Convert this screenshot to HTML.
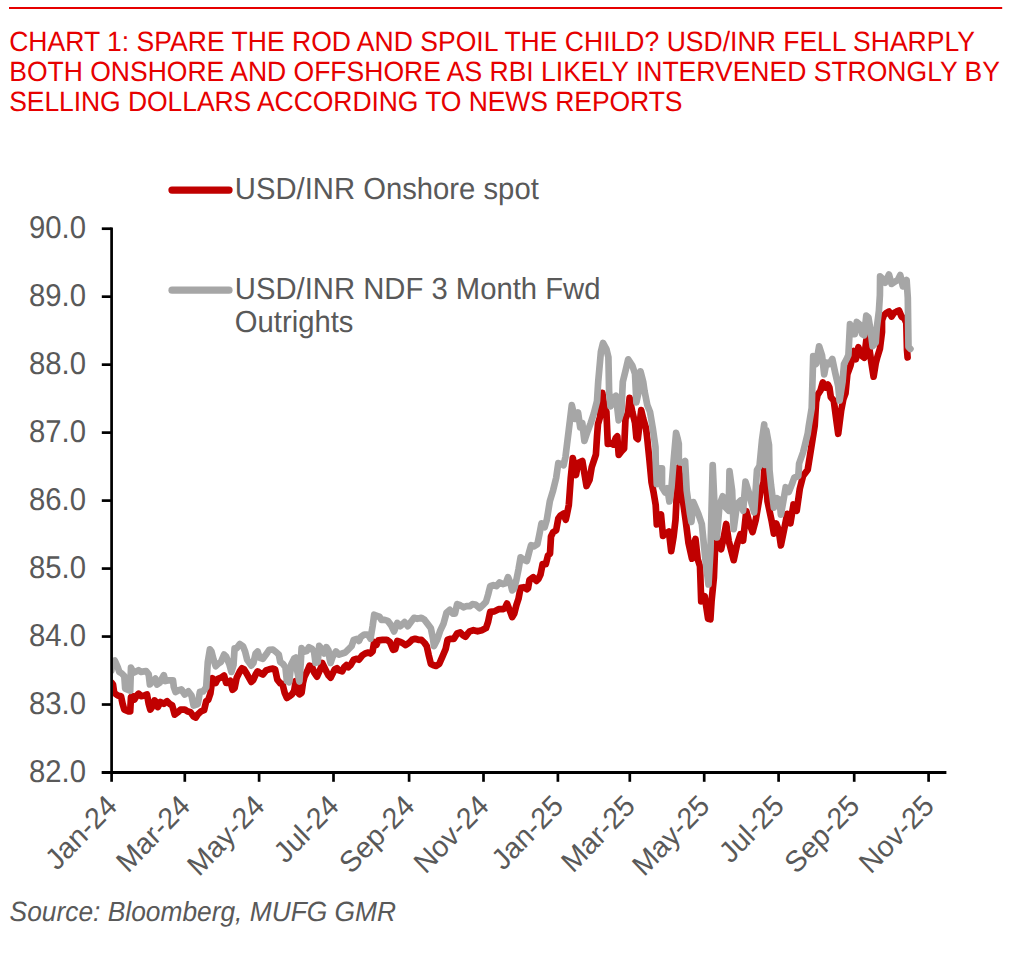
<!DOCTYPE html>
<html><head><meta charset="utf-8"><style>
html,body{margin:0;padding:0;background:#fff;}
svg{display:block;font-family:"Liberation Sans",sans-serif;text-rendering:geometricPrecision;}
</style></head><body>
<svg width="1022" height="953" viewBox="0 0 1022 953">
<line x1="9" y1="8" x2="1002.2" y2="8" stroke="#E60000" stroke-width="2"/>
<defs><clipPath id="pc"><rect x="112.6" y="150" width="850" height="621"/></clipPath></defs>
<g clip-path="url(#pc)"><path d="M111.7,682.8 L113.0,684.5 L114.2,692.9 L117.6,695.4 L121.0,696.2 L122.6,703.8 L124.3,709.6 L128.5,711.3 L130.2,711.3 L131.0,697.0 L132.7,696.2 L134.4,699.6 L136.9,695.4 L138.6,693.7 L141.1,696.2 L144.4,695.4 L147.0,694.5 L148.7,703.8 L150.3,709.6 L152.0,707.1 L154.5,700.4 L156.2,702.1 L157.9,707.1 L160.4,702.1 L163.8,703.8 L167.1,701.2 L169.6,703.8 L172.2,705.4 L174.7,714.7 L178.0,712.2 L180.6,709.6 L184.8,709.6 L187.3,711.3 L190.5,712.3 L193.6,716.5 L195.7,717.6 L197.8,714.4 L201.0,711.3 L204.1,710.2 L206.2,701.3 L208.3,699.8 L210.4,693.5 L212.5,678.2 L215.7,683.0 L217.8,678.8 L220.9,677.7 L224.1,675.6 L226.2,683.0 L228.3,683.0 L230.4,680.9 L232.5,689.8 L234.6,688.2 L236.7,677.7 L239.8,671.4 L241.9,668.3 L244.0,669.3 L247.2,674.6 L251.3,681.9 L253.4,679.8 L255.6,674.6 L257.6,671.4 L260.8,673.5 L262.9,674.6 L266.0,670.4 L269.2,669.3 L272.9,668.6 L275.1,669.4 L277.3,679.6 L280.3,683.3 L282.5,684.0 L284.7,692.9 L286.9,698.0 L289.1,696.5 L292.0,694.3 L294.2,690.7 L295.7,681.1 L297.2,691.4 L299.4,694.3 L301.6,692.9 L303.0,682.6 L304.5,676.7 L307.4,670.8 L309.6,665.7 L311.9,666.4 L314.1,672.3 L317.0,676.7 L321.2,667.2 L322.2,663.0 L324.3,667.2 L326.4,671.4 L328.5,675.5 L330.6,677.6 L332.7,673.5 L334.8,669.2 L336.9,668.2 L339.0,670.3 L342.2,671.4 L344.2,667.2 L346.4,665.1 L348.4,667.2 L350.6,665.1 L353.7,659.8 L356.9,658.8 L358.9,659.8 L362.1,655.6 L365.2,653.5 L368.4,652.5 L370.5,653.5 L372.6,651.4 L374.2,642.0 L376.3,645.1 L378.4,640.3 L382.6,639.8 L386.8,639.8 L389.9,641.9 L393.1,649.8 L395.2,649.2 L397.3,640.9 L400.4,641.9 L402.5,643.0 L405.7,645.1 L408.8,643.0 L412.0,639.8 L415.1,638.8 L418.3,639.8 L421.4,639.8 L424.6,643.0 L426.7,646.1 L428.8,655.5 L430.9,664.0 L433.0,665.0 L436.1,666.0 L439.2,664.0 L442.4,656.6 L445.6,649.2 L447.6,639.8 L450.8,638.8 L453.9,638.8 L457.1,633.5 L460.2,632.5 L463.4,635.6 L465.5,636.7 L468.6,632.5 L469.7,631.4 L473.4,630.2 L477.6,631.3 L481.8,630.2 L486.0,628.1 L488.1,621.9 L490.2,611.9 L494.4,611.4 L498.6,609.2 L502.8,609.2 L504.9,608.2 L507.0,603.5 L510.1,611.4 L512.2,617.1 L514.3,613.5 L516.4,605.1 L518.5,598.8 L520.6,587.7 L523.8,587.2 L526.9,589.3 L528.0,588.3 L529.5,579.9 L533.2,577.2 L536.4,580.9 L538.5,578.8 L540.5,574.6 L542.6,564.1 L545.8,564.1 L547.9,555.7 L550.0,553.6 L551.0,536.5 L553.1,532.3 L556.2,530.2 L558.3,518.7 L560.4,515.5 L563.6,513.5 L565.7,519.8 L566.7,515.5 L568.8,505.1 L569.2,499.7 L570.7,478.7 L572.8,458.2 L576.0,475.0 L578.1,463.0 L582.3,460.9 L584.4,473.4 L586.5,486.0 L589.6,479.8 L591.7,467.2 L593.8,460.9 L595.9,454.6 L597.0,436.7 L598.0,424.1 L600.1,416.8 L602.3,392.8 L604.3,406.4 L606.4,411.9 L607.8,443.9 L610.5,443.2 L613.2,444.6 L615.9,437.8 L617.3,436.4 L618.7,454.8 L621.4,451.4 L624.1,448.7 L625.5,418.7 L628.2,411.9 L629.6,397.9 L632.3,411.9 L635.0,422.8 L636.4,437.8 L637.8,439.1 L639.1,428.2 L641.2,410.2 L643.2,418.7 L646.0,428.2 L647.3,439.1 L649.4,459.6 L651.5,482.0 L653.6,492.5 L655.7,505.0 L656.8,524.5 L660.0,515.6 L661.0,514.5 L663.0,536.0 L665.0,534.0 L668.9,531.5 L671.2,551.2 L673.5,537.3 L675.5,520.0 L677.0,490.0 L678.8,467.3 L681.0,485.0 L683.5,505.0 L685.6,520.0 L688.5,543.0 L692.0,558.7 L694.3,543.0 L695.5,539.0 L697.7,559.3 L700.0,566.2 L701.2,601.4 L704.7,596.2 L708.1,618.7 L710.4,619.3 L711.6,600.8 L713.9,577.7 L715.1,547.7 L716.2,540.8 L718.6,540.8 L721.1,549.2 L723.7,537.5 L726.2,524.0 L728.7,540.8 L733.7,560.2 L737.1,544.2 L740.5,534.1 L743.1,540.7 L746.3,511.0 L749.4,523.4 L752.6,532.0 L755.7,520.2 L758.9,501.3 L760.5,491.9 L763.6,482.4 L765.1,451.0 L766.3,475.0 L767.5,501.3 L771.5,520.2 L773.9,533.6 L776.2,523.4 L778.6,529.7 L780.9,545.4 L784.1,529.7 L787.2,513.9 L790.4,523.4 L793.5,504.5 L796.7,510.8 L799.8,488.7 L803.0,476.1 L807.7,469.8 L811.7,444.8 L814.7,425.7 L816.1,402.2 L817.6,394.9 L820.5,390.5 L822.8,382.4 L825.7,387.5 L827.9,384.6 L829.4,387.5 L830.8,397.1 L833.8,400.7 L836.7,422.8 L838.2,433.8 L841.1,411.0 L843.3,399.3 L845.5,393.4 L847.4,374.0 L850.5,365.6 L853.7,350.9 L855.8,359.3 L858.4,347.2 L861.0,355.1 L864.2,357.8 L866.3,340.4 L867.8,336.2 L869.4,348.8 L871.5,363.5 L873.6,376.7 L875.7,363.5 L877.3,357.2 L879.9,348.8 L882.0,332.0 L882.0,320.4 L883.9,315.4 L886.4,312.9 L889.0,311.6 L891.5,316.6 L894.0,312.9 L896.5,311.6 L899.0,310.4 L901.5,316.6 L904.4,318.5 L906.3,322.9 L907.0,350.0 L907.6,357.4" fill="none" stroke="#C00000" stroke-width="6.7" stroke-linejoin="round" stroke-linecap="round"/>
<path d="M111.3,671.0 L111.9,664.3 L113.0,661.4 L114.7,660.5 L117.6,666.8 L119.3,671.9 L121.8,673.5 L124.3,676.1 L125.2,688.6 L130.2,690.8 L131.0,667.7 L133.5,672.7 L138.6,670.2 L141.1,671.9 L146.1,671.0 L148.7,674.4 L149.9,684.5 L152.0,681.9 L155.4,678.6 L157.1,684.5 L159.6,682.8 L163.8,675.2 L165.4,681.1 L168.8,680.3 L171.3,680.3 L173.0,680.3 L173.8,687.0 L175.5,692.0 L178.9,690.3 L181.4,689.5 L184.8,694.5 L188.4,691.4 L191.5,695.5 L193.6,705.5 L197.8,704.0 L199.9,691.9 L203.1,691.4 L206.2,687.2 L207.8,662.0 L209.9,649.4 L211.5,651.5 L213.6,659.9 L215.7,666.2 L217.8,664.1 L220.9,662.0 L224.1,654.6 L226.2,656.7 L229.3,664.1 L231.4,671.9 L233.5,665.1 L234.6,648.3 L236.7,648.3 L239.8,644.1 L243.0,646.2 L245.1,651.5 L247.2,659.9 L251.3,665.6 L253.4,663.0 L255.6,653.6 L257.6,651.5 L259.8,657.8 L262.9,658.8 L266.0,654.6 L269.2,649.9 L272.9,649.5 L276.6,652.5 L278.8,654.7 L280.3,662.0 L283.2,664.2 L285.4,667.2 L286.9,681.1 L289.1,682.2 L291.3,664.2 L294.2,658.4 L295.7,657.6 L297.2,670.8 L299.4,681.5 L300.8,662.0 L301.6,648.1 L303.8,651.8 L306.7,651.0 L308.9,647.3 L311.9,648.8 L314.1,651.8 L315.5,662.8 L317.7,662.0 L319.2,645.9 L322.2,649.3 L324.3,653.5 L326.4,647.2 L328.5,650.4 L329.6,658.8 L330.6,663.0 L332.7,656.7 L335.9,651.4 L339.0,654.6 L342.2,653.5 L345.3,652.5 L348.4,649.3 L351.6,646.2 L353.7,639.9 L356.9,638.8 L358.9,640.9 L361.0,636.7 L364.2,634.6 L367.3,634.6 L369.4,636.7 L370.5,638.8 L372.6,626.2 L374.2,614.7 L376.3,615.7 L379.4,616.7 L381.5,619.9 L384.7,619.9 L387.8,620.9 L391.0,625.1 L394.1,631.4 L397.3,623.0 L400.4,626.2 L404.6,622.0 L407.8,626.2 L410.9,622.0 L414.1,617.8 L417.2,618.8 L421.4,617.8 L424.6,619.9 L427.7,624.1 L430.9,628.3 L433.0,638.8 L434.0,646.1 L437.2,639.8 L440.3,630.4 L443.4,624.1 L446.6,612.5 L449.8,609.9 L452.9,613.6 L455.0,613.6 L457.1,604.1 L460.2,605.2 L463.4,607.3 L466.5,606.2 L469.7,606.2 L472.4,604.2 L475.5,604.5 L479.7,608.2 L482.8,605.1 L486.0,601.9 L488.1,594.6 L490.2,586.2 L493.3,585.1 L496.5,586.2 L499.6,582.5 L502.8,584.1 L505.9,583.0 L508.0,577.2 L510.1,582.0 L512.2,590.4 L514.3,588.3 L516.4,579.9 L518.5,569.4 L520.6,557.3 L523.8,559.9 L526.9,561.0 L529.0,552.6 L531.1,545.2 L534.2,546.3 L537.4,544.2 L539.4,534.4 L541.5,523.4 L544.7,527.1 L546.8,519.8 L549.9,500.9 L553.1,490.4 L556.2,477.8 L558.3,463.1 L561.5,464.1 L563.6,465.2 L565.5,456.7 L568.6,431.5 L571.8,405.2 L574.9,418.9 L578.1,412.6 L580.2,427.3 L582.3,423.1 L584.4,440.9 L587.5,431.5 L590.7,423.1 L593.8,413.6 L597.0,401.1 L598.2,381.8 L600.9,351.8 L603.0,343.0 L606.4,349.1 L608.4,357.3 L609.1,391.4 L610.5,406.4 L613.2,398.2 L615.9,395.8 L618.7,420.3 L621.4,411.9 L622.8,381.8 L625.5,370.9 L628.2,359.3 L632.3,365.5 L635.0,373.7 L636.4,402.3 L638.4,392.8 L640.5,371.3 L643.2,381.8 L644.6,391.4 L647.3,405.0 L650.0,411.9 L652.8,428.2 L655.5,447.3 L655.7,461.0 L656.8,484.1 L658.9,468.3 L662.0,468.3 L662.0,487.2 L665.2,492.5 L667.3,488.3 L669.4,501.4 L671.5,487.2 L673.6,461.0 L676.1,432.8 L677.5,438.0 L678.8,444.0 L678.8,460.0 L680.0,462.4 L683.2,462.4 L685.1,461.0 L686.7,490.4 L690.0,514.0 L691.4,521.9 L693.4,502.2 L698.4,514.0 L701.8,524.0 L705.2,557.6 L708.5,584.5 L710.5,550.0 L712.7,465.2 L714.7,510.0 L716.9,537.5 L719.5,505.0 L722.8,496.3 L725.3,507.2 L728.7,510.6 L729.5,471.1 L732.1,490.4 L733.7,529.1 L737.1,503.9 L740.5,500.5 L743.1,510.8 L745.5,481.7 L748.7,491.9 L751.0,501.3 L754.2,512.4 L757.0,470.0 L759.5,466.0 L762.0,440.0 L764.2,424.5 L765.3,465.0 L766.3,430.0 L769.0,445.0 L769.5,470.0 L771.0,485.0 L773.9,507.6 L777.0,498.2 L779.4,499.8 L780.9,514.7 L783.3,501.3 L785.7,487.2 L788.8,491.9 L792.0,484.0 L794.3,477.7 L798.3,476.1 L799.1,463.5 L803.0,452.5 L804.6,446.2 L807.7,433.6 L808.8,425.7 L811.7,408.1 L813.2,356.0 L816.1,364.0 L819.1,346.4 L822.0,355.2 L824.2,374.3 L826.4,362.6 L829.4,364.0 L832.3,358.9 L835.2,372.8 L838.2,386.1 L839.6,400.7 L842.6,381.6 L844.0,364.0 L847.0,358.2 L848.4,355.1 L850.0,324.1 L852.6,334.1 L854.7,334.1 L856.8,322.0 L860.0,324.7 L862.1,334.1 L864.2,335.2 L866.3,315.7 L868.4,317.3 L870.5,329.9 L872.6,346.2 L875.7,342.5 L876.8,327.8 L878.9,311.0 L879.9,295.3 L880.1,276.4 L882.7,278.9 L885.2,282.7 L889.0,274.5 L891.5,283.9 L895.2,281.4 L897.8,280.1 L900.3,275.1 L902.8,286.4 L906.6,280.1 L907.8,297.8 L908.5,346.9 L910.4,348.8" fill="none" stroke="#A6A6A6" stroke-width="6.7" stroke-linejoin="round" stroke-linecap="round"/></g>
<text transform="translate(9.2,50.5) scale(1,1.05)" font-size="26.55" fill="#E60000">CHART 1: SPARE THE ROD AND SPOIL THE CHILD? USD/INR FELL SHARPLY</text>
<text transform="translate(9.2,80.9) scale(1,1.05)" font-size="26.55" fill="#E60000" textLength="990.7" lengthAdjust="spacing">BOTH ONSHORE AND OFFSHORE AS RBI LIKELY INTERVENED STRONGLY BY</text>
<text transform="translate(9.2,111.0) scale(1,1.05)" font-size="26.55" fill="#E60000" textLength="673.3" lengthAdjust="spacing">SELLING DOLLARS ACCORDING TO NEWS REPORTS</text>
<line x1="111.6" y1="227.4" x2="111.6" y2="773.5" stroke="#000" stroke-width="2.7"/>
<line x1="101.8" y1="772.50" x2="111.6" y2="772.50" stroke="#000" stroke-width="2.7"/>
<text transform="translate(86.0,781.9) scale(1,1.077)" font-size="29.3" fill="#595959" text-anchor="end">82.0</text>
<line x1="101.8" y1="704.52" x2="111.6" y2="704.52" stroke="#000" stroke-width="2.7"/>
<text transform="translate(86.0,713.9) scale(1,1.077)" font-size="29.3" fill="#595959" text-anchor="end">83.0</text>
<line x1="101.8" y1="636.55" x2="111.6" y2="636.55" stroke="#000" stroke-width="2.7"/>
<text transform="translate(86.0,645.9) scale(1,1.077)" font-size="29.3" fill="#595959" text-anchor="end">84.0</text>
<line x1="101.8" y1="568.58" x2="111.6" y2="568.58" stroke="#000" stroke-width="2.7"/>
<text transform="translate(86.0,578.0) scale(1,1.077)" font-size="29.3" fill="#595959" text-anchor="end">85.0</text>
<line x1="101.8" y1="500.60" x2="111.6" y2="500.60" stroke="#000" stroke-width="2.7"/>
<text transform="translate(86.0,510.0) scale(1,1.077)" font-size="29.3" fill="#595959" text-anchor="end">86.0</text>
<line x1="101.8" y1="432.62" x2="111.6" y2="432.62" stroke="#000" stroke-width="2.7"/>
<text transform="translate(86.0,442.0) scale(1,1.077)" font-size="29.3" fill="#595959" text-anchor="end">87.0</text>
<line x1="101.8" y1="364.65" x2="111.6" y2="364.65" stroke="#000" stroke-width="2.7"/>
<text transform="translate(86.0,374.0) scale(1,1.077)" font-size="29.3" fill="#595959" text-anchor="end">88.0</text>
<line x1="101.8" y1="296.67" x2="111.6" y2="296.67" stroke="#000" stroke-width="2.7"/>
<text transform="translate(86.0,306.1) scale(1,1.077)" font-size="29.3" fill="#595959" text-anchor="end">89.0</text>
<line x1="101.8" y1="228.70" x2="111.6" y2="228.70" stroke="#000" stroke-width="2.7"/>
<text transform="translate(86.0,238.1) scale(1,1.077)" font-size="29.3" fill="#595959" text-anchor="end">90.0</text>
<line x1="101.8" y1="772.50" x2="946.4" y2="772.50" stroke="#000" stroke-width="2.9"/>
<line x1="111.6" y1="772.5" x2="111.6" y2="781.8" stroke="#000" stroke-width="2.7"/>
<text transform="translate(118.6,807.5) scale(1,1.04) rotate(-45)" font-size="28.5" fill="#595959" text-anchor="end">Jan-24</text>
<line x1="184.8" y1="772.5" x2="184.8" y2="781.8" stroke="#000" stroke-width="2.7"/>
<text transform="translate(191.8,807.5) scale(1,1.04) rotate(-45)" font-size="28.5" fill="#595959" text-anchor="end">Mar-24</text>
<line x1="259.1" y1="772.5" x2="259.1" y2="781.8" stroke="#000" stroke-width="2.7"/>
<text transform="translate(266.1,807.5) scale(1,1.04) rotate(-45)" font-size="28.5" fill="#595959" text-anchor="end">May-24</text>
<line x1="333.5" y1="772.5" x2="333.5" y2="781.8" stroke="#000" stroke-width="2.7"/>
<text transform="translate(340.5,807.5) scale(1,1.04) rotate(-45)" font-size="28.5" fill="#595959" text-anchor="end">Jul-24</text>
<line x1="409.1" y1="772.5" x2="409.1" y2="781.8" stroke="#000" stroke-width="2.7"/>
<text transform="translate(416.1,807.5) scale(1,1.04) rotate(-45)" font-size="28.5" fill="#595959" text-anchor="end">Sep-24</text>
<line x1="483.5" y1="772.5" x2="483.5" y2="781.8" stroke="#000" stroke-width="2.7"/>
<text transform="translate(490.5,807.5) scale(1,1.04) rotate(-45)" font-size="28.5" fill="#595959" text-anchor="end">Nov-24</text>
<line x1="557.9" y1="772.5" x2="557.9" y2="781.8" stroke="#000" stroke-width="2.7"/>
<text transform="translate(564.9,807.5) scale(1,1.04) rotate(-45)" font-size="28.5" fill="#595959" text-anchor="end">Jan-25</text>
<line x1="629.8" y1="772.5" x2="629.8" y2="781.8" stroke="#000" stroke-width="2.7"/>
<text transform="translate(636.8,807.5) scale(1,1.04) rotate(-45)" font-size="28.5" fill="#595959" text-anchor="end">Mar-25</text>
<line x1="704.2" y1="772.5" x2="704.2" y2="781.8" stroke="#000" stroke-width="2.7"/>
<text transform="translate(711.2,807.5) scale(1,1.04) rotate(-45)" font-size="28.5" fill="#595959" text-anchor="end">May-25</text>
<line x1="778.6" y1="772.5" x2="778.6" y2="781.8" stroke="#000" stroke-width="2.7"/>
<text transform="translate(785.6,807.5) scale(1,1.04) rotate(-45)" font-size="28.5" fill="#595959" text-anchor="end">Jul-25</text>
<line x1="854.2" y1="772.5" x2="854.2" y2="781.8" stroke="#000" stroke-width="2.7"/>
<text transform="translate(861.2,807.5) scale(1,1.04) rotate(-45)" font-size="28.5" fill="#595959" text-anchor="end">Sep-25</text>
<line x1="928.6" y1="772.5" x2="928.6" y2="781.8" stroke="#000" stroke-width="2.7"/>
<text transform="translate(935.6,807.5) scale(1,1.04) rotate(-45)" font-size="28.5" fill="#595959" text-anchor="end">Nov-25</text>
<line x1="172" y1="190.1" x2="229" y2="190.1" stroke="#C00000" stroke-width="7.3" stroke-linecap="round"/>
<text transform="translate(234.8,198.7) scale(1,1.043)" font-size="29.25" fill="#595959">USD/INR Onshore spot</text>
<line x1="172" y1="290.2" x2="229" y2="290.2" stroke="#A6A6A6" stroke-width="7.2" stroke-linecap="round"/>
<text transform="translate(234.8,298.6) scale(1,1.043)" font-size="29.25" fill="#595959">USD/INR NDF 3 Month Fwd</text>
<text transform="translate(234.8,332.0) scale(1,1.043)" font-size="29.25" fill="#595959">Outrights</text>
<text transform="translate(9.6,920.8) scale(1,1.055)" font-size="26.35" font-style="italic" fill="#595959">Source: Bloomberg, MUFG GMR</text>
</svg>
</body></html>
